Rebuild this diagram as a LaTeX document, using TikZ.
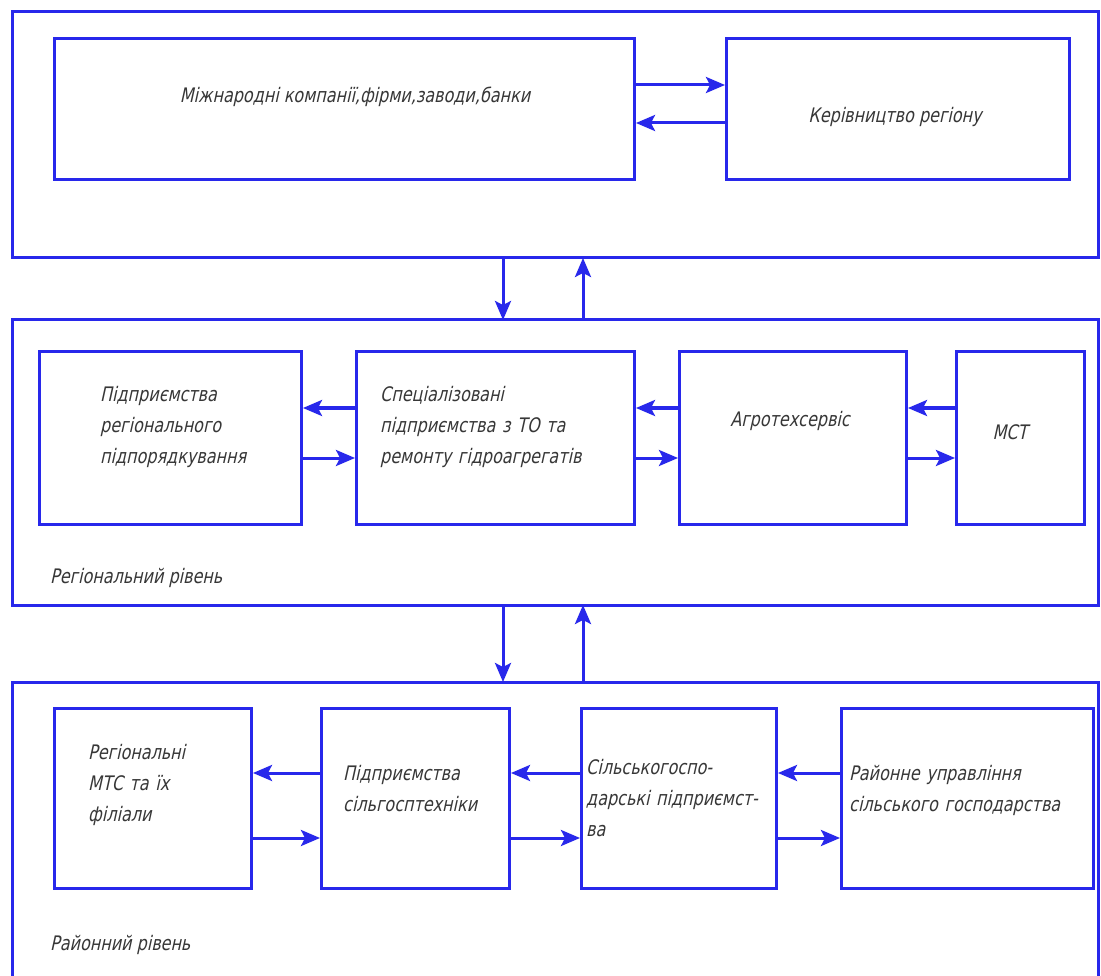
\documentclass[tikz,border=0pt]{standalone}
\usepackage{fontspec}
\setmainfont{DejaVu Sans}
\newfontfamily\diagfont[FakeStretch=0.8,FakeSlant=0.22]{DejaVu Sans}
\usetikzlibrary{arrows.meta}
\definecolor{frameblue}{RGB}{40,40,235}
\definecolor{txtgray}{RGB}{55,55,55}
\tikzset{
  frm/.style={draw=frameblue,line width=3pt},
  bx/.style={draw=frameblue,line width=3pt,rectangle,inner sep=0pt},
  con/.style={draw=frameblue,line width=3pt,-{Stealth[length=19pt,width=16pt,inset=4pt]}},
  lbl/.style={text=txtgray,font=\diagfont\fontsize{20}{31}\selectfont,align=left,inner sep=0pt},
  lblc/.style={text=txtgray,font=\diagfont\fontsize{20}{31}\selectfont,align=center,inner sep=0pt}
}
\begin{document}
\begin{tikzpicture}[x=1pt,y=-1pt]
\useasboundingbox (0,0) rectangle (1101,976);
\clip (0,0) rectangle (1101,976);
\fill[white] (0,0) rectangle (1101,976);
% frames
\draw[frm] (12,12) rectangle (1098,258);
\draw[frm] (12,320) rectangle (1098,605);
\draw[frm] (12,682) rectangle (1098,1000);
% level 1 boxes
\node[bx,minimum width=580pt,minimum height=141pt,anchor=north west] (a) at (53,37) {};
\node[bx,minimum width=343pt,minimum height=141pt,anchor=north west] (b) at (725,37) {};
\node[lblc] at (355,97) {Міжнародні компанії,фірми,заводи,банки};
\node[lblc] at (895,117) {Керівництво регіону};
% level 2 boxes
\node[bx,minimum width=262pt,minimum height=173pt,anchor=north west] (c) at (38,350) {};
\node[bx,minimum width=278pt,minimum height=173pt,anchor=north west] (d) at (355,350) {};
\node[bx,minimum width=227pt,minimum height=173pt,anchor=north west] (e) at (678,350) {};
\node[bx,minimum width=128pt,minimum height=173pt,anchor=north west] (f) at (955,350) {};
\node[lbl,anchor=north west,text width=200pt] at (100,386) {Підприємства\\регіонального\\підпорядкування};
\node[lbl,anchor=north west,text width=260pt] at (380,386) {Спеціалізовані\\підприємства з ТО та\\ремонту гідроагрегатів};
\node[lblc] at (790,421) {Агротехсервіс};
\node[lblc] at (1010,432) {МСТ};
\node[lbl,anchor=west] at (50,578) {Регіональний рівень};
% level 3 boxes
\node[bx,minimum width=197pt,minimum height=180pt,anchor=north west] (g) at (53,707) {};
\node[bx,minimum width=188pt,minimum height=180pt,anchor=north west] (h) at (320,707) {};
\node[bx,minimum width=195pt,minimum height=180pt,anchor=north west] (i) at (580,707) {};
\node[bx,minimum width=252pt,minimum height=180pt,anchor=north west] (j) at (840,707) {};
\node[lbl,anchor=north west,text width=160pt] at (88,744) {Регіональні\\МТС та їх\\філіали};
\node[lbl,anchor=north west,text width=180pt] at (343,765) {Підприємства\\сільгосптехніки};
\node[lbl,anchor=north west,text width=200pt] at (586,759) {Сільськогоспо-\\дарські підприємст-\\ва};
\node[lbl,anchor=north west,text width=250pt] at (849,765) {Районне управління\\сільського господарства};
\node[lbl,anchor=west] at (50,945) {Районний рівень};
% frame anchor coordinates
\coordinate (f1b1) at (503,258); \coordinate (f2t1) at (503,320);
\coordinate (f1b2) at (583,258); \coordinate (f2t2) at (583,320);
\coordinate (f2b1) at (503,605); \coordinate (f3t1) at (503,682);
\coordinate (f2b2) at (583,605); \coordinate (f3t2) at (583,682);
% connectors level 1
\draw[con] (a.east |- 0,85) -- (b.west |- 0,85);
\draw[con] (b.west |- 0,123) -- (a.east |- 0,123);
\draw[con] (f1b1) -- (f2t1);
\draw[con] (f2t2) -- (f1b2);
% connectors level 2
\draw[con] (d.west |- 0,408) -- (c.east |- 0,408);
\draw[con] (c.east |- 0,458) -- (d.west |- 0,458);
\draw[con] (e.west |- 0,408) -- (d.east |- 0,408);
\draw[con] (d.east |- 0,458) -- (e.west |- 0,458);
\draw[con] (f.west |- 0,408) -- (e.east |- 0,408);
\draw[con] (e.east |- 0,458) -- (f.west |- 0,458);
\draw[con] (f2b1) -- (f3t1);
\draw[con] (f3t2) -- (f2b2);
% connectors level 3
\draw[con] (h.west |- 0,773) -- (g.east |- 0,773);
\draw[con] (g.east |- 0,838) -- (h.west |- 0,838);
\draw[con] (i.west |- 0,773) -- (h.east |- 0,773);
\draw[con] (h.east |- 0,838) -- (i.west |- 0,838);
\draw[con] (j.west |- 0,773) -- (i.east |- 0,773);
\draw[con] (i.east |- 0,838) -- (j.west |- 0,838);
\end{tikzpicture}
\end{document}
